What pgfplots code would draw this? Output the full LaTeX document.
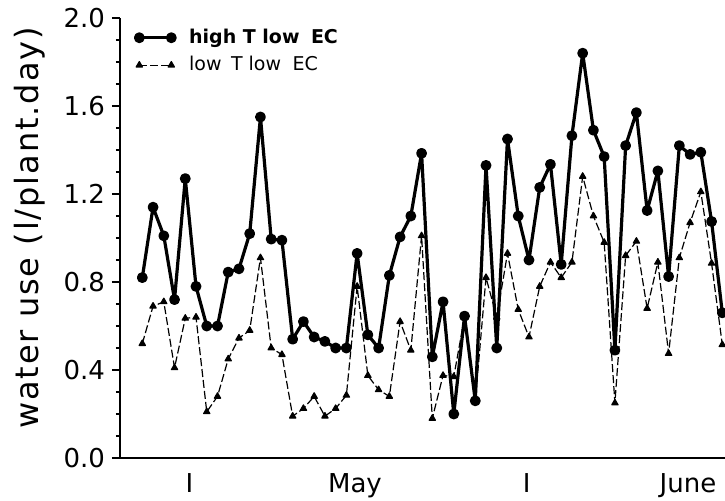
\documentclass[border=0pt]{standalone}
\usepackage{fontspec}
\setmainfont{DejaVu Sans}
\newfontfamily\labelfont[LetterSpace=6]{DejaVu Sans}
\usepackage{pgfplots}
\pgfplotsset{compat=1.18}

% daily water use, index 0 = first day plotted
\pgfplotstableread{
d  hi     lo
0  0.82   0.52
1  1.14   0.69
2  1.01   0.71
3  0.72   0.41
4  1.27   0.635
5  0.78   0.64
6  0.60   0.21
7  0.60   0.28
8  0.845  0.45
9  0.86   0.545
10 1.02   0.58
11 1.55   0.91
12 0.995  0.50
13 0.99   0.47
14 0.54   0.19
15 0.62   0.225
16 0.55   0.28
17 0.53   0.19
18 0.50   0.225
19 0.50   0.285
20 0.93   0.78
21 0.56   0.375
22 0.50   0.31
23 0.83   0.28
24 1.005  0.62
25 1.10   0.49
26 1.385  1.01
27 0.46   0.18
28 0.71   0.375
29 0.20   0.37
30 0.645  0.64
31 0.26   0.26
32 1.33   0.82
33 0.50   0.64
34 1.45   0.93
35 1.10   0.675
36 0.90   0.55
37 1.23   0.78
38 1.335  0.89
39 0.88   0.82
40 1.465  0.89
41 1.84   1.28
42 1.49   1.10
43 1.37   0.98
44 0.49   0.25
45 1.42   0.92
46 1.57   0.985
47 1.125  0.68
48 1.305  0.89
49 0.825  0.475
50 1.42   0.91
51 1.38   1.07
52 1.39   1.21
53 1.075  0.885
54 0.66   0.515
}\water

\begin{document}
\begin{tikzpicture}
\begin{axis}[
    scale only axis,
    width=302.5pt, height=220pt,
    xmin=-2.077, xmax=54.25,
    ymin=0, ymax=2.0,
    axis x line=bottom, axis y line=left,
    axis line style={-, line width=1pt},
    ytick={0,0.4,0.8,1.2,1.6,2.0},
    minor y tick num=3,
    yticklabel style={/pgf/number format/fixed,
        /pgf/number format/fixed zerofill,
        /pgf/number format/precision=1},
    /pgf/number format/assume math mode=true,
    tick align=outside,
    major tick length=4pt, minor tick length=2pt,
    y tick style={line width=0.8pt, black},
    xtick={4.4,19.8,35.8,50.8},
    xticklabels={I,May,I,June},
    x tick style={draw=none},
    tick label style={font=\fontsize{13}{15}\selectfont},
    ylabel={water use (l/plant.day)},
    ylabel style={font=\labelfont\fontsize{16}{18}\selectfont,
        at={(axis description cs:-0.1488,0.523)}, anchor=center},
    legend style={at={(axis description cs:0.025,0.985)}, anchor=north west,
        draw=none, fill=none, inner sep=0pt, row sep=1pt,
        /tikz/every odd column/.append style={column sep=5pt},
        font=\fontsize{9.5}{11}\selectfont},
    legend cell align=left,
    legend image code/.code={\draw[#1] plot coordinates {(0pt,0pt) (16pt,0pt)};},
]
\addplot[black, line width=1.6pt, line join=round, mark=*, mark size=1.9pt]
    table[x=d, y=hi] {\water};
\addlegendentry{\textbf{high T low\hspace{0.6em}EC}}
\addplot[black, line width=0.6pt, line join=round, dash pattern=on 4pt off 1.5pt,
    mark=triangle*, mark size=1.8pt, mark options={solid}]
    table[x=d, y=lo] {\water};
\addlegendentry{low\hspace{0.5em}T low\hspace{0.6em}EC}
\end{axis}
\pgfresetboundingbox
\path[use as bounding box] (-60pt,-21pt) rectangle (302.5pt,229pt);
\end{tikzpicture}
\end{document}
